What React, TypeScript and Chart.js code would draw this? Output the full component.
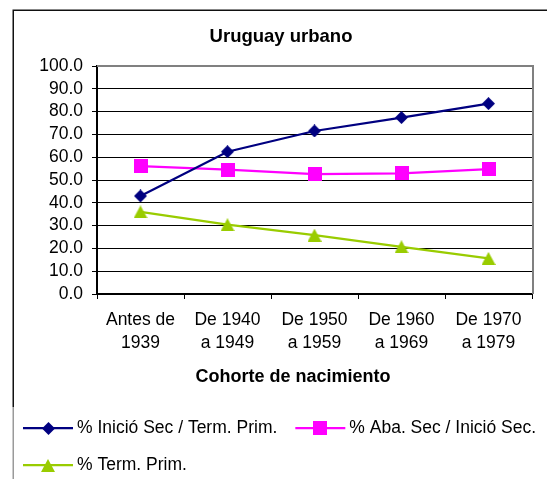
import React, { useEffect, useRef } from 'react';
import { Chart, registerables } from 'chart.js';

Chart.register(...registerables);

const FONT = '"Liberation Sans", Arial, Helvetica, sans-serif';

const chartTitle = 'Uruguay urbano';
const xAxisTitle = 'Cohorte de nacimiento';
const categories: string[][] = [
  ['Antes de', '1939'],
  ['De 1940', 'a 1949'],
  ['De 1950', 'a 1959'],
  ['De 1960', 'a 1969'],
  ['De 1970', 'a 1979'],
];
const seriesNames = ['% Inició Sec / Term. Prim.', '% Aba. Sec / Inició Sec.', '% Term. Prim.'];
const inicioSecTermPrim = [43.0, 62.4, 71.5, 77.4, 83.5];
const abaSecInicioSec = [56.1, 54.6, 52.6, 52.9, 54.8];
const termPrim = [36.0, 30.4, 25.8, 20.7, 15.6];
const yMin = 0;
const yMax = 100;
const yStep = 10;

const BLUE = '#000080';
const PINK = '#FF00FF';
const GREEN = '#99CC00';

function makeMarker(shape: string, color: string): HTMLCanvasElement {
  const c = document.createElement('canvas');
  const ctx = c.getContext('2d')!;
  if (shape === 'diamond') {
    c.width = 13; c.height = 13;
    ctx.fillStyle = color;
    ctx.beginPath();
    ctx.moveTo(6.5, 0); ctx.lineTo(13, 6.5); ctx.lineTo(6.5, 13); ctx.lineTo(0, 6.5);
    ctx.closePath(); ctx.fill();
  } else if (shape === 'square') {
    c.width = 14; c.height = 14;
    ctx.fillStyle = color;
    ctx.fillRect(0, 0, 14, 14);
  } else {
    c.width = 14; c.height = 13;
    ctx.fillStyle = color;
    ctx.beginPath();
    ctx.moveTo(7, 0); ctx.lineTo(14, 13); ctx.lineTo(0, 13);
    ctx.closePath(); ctx.fill();
  }
  return c;
}

const decorPlugin = {
  id: 'decor',
  afterDraw(chart: any) {
    const ctx: CanvasRenderingContext2D = chart.ctx;
    const area = chart.chartArea;
    ctx.save();
    // outer chart frame
    ctx.lineWidth = 1.5;
    ctx.strokeStyle = '#111';
    ctx.beginPath();
    ctx.moveTo(chart.width, 10.25);
    ctx.lineTo(13.25, 10.25);
    ctx.lineTo(13.25, 407);
    ctx.stroke();
    ctx.strokeStyle = '#9a9a9a';
    ctx.beginPath();
    ctx.moveTo(13.25, 407);
    ctx.lineTo(13.25, chart.height);
    ctx.stroke();

    // plot area top/right border (grey)
    ctx.lineWidth = 2;
    ctx.strokeStyle = '#808080';
    ctx.beginPath();
    ctx.moveTo(area.left, area.top);
    ctx.lineTo(area.right + 1, area.top);
    ctx.lineTo(area.right + 1, area.bottom);
    ctx.stroke();

    // chart title
    ctx.fillStyle = '#000';
    ctx.textAlign = 'center';
    ctx.textBaseline = 'alphabetic';
    ctx.font = `bold 18.5px ${FONT}`;
    ctx.fillText(chartTitle, 281, 42);

    // x axis title
    ctx.font = `bold 18px ${FONT}`;
    ctx.fillText(xAxisTitle, 293, 382);

    // legend
    ctx.font = `17.5px ${FONT}`;
    ctx.textAlign = 'left';
    ctx.textBaseline = 'middle';
    const startX = 23;
    const lineLen = 50;
    const textGap = 4;
    const itemGap = 18;
    const rowH = 37;
    let x = startX;
    let y = 428;
    chart.data.datasets.forEach((ds: any) => {
      const tw = ctx.measureText(ds.label).width;
      const w = lineLen + textGap + tw;
      if (x + w > chart.width - 3 && x > startX) {
        x = startX;
        y += rowH;
      }
      ctx.strokeStyle = ds.borderColor;
      ctx.lineWidth = 2.25;
      ctx.beginPath();
      ctx.moveTo(x, y);
      ctx.lineTo(x + lineLen, y);
      ctx.stroke();
      const img: HTMLCanvasElement = ds.pointStyle;
      ctx.drawImage(img, Math.round(x + lineLen / 2 - img.width / 2), Math.round(y - img.height / 2));
      ctx.fillStyle = '#000';
      ctx.fillText(ds.label, x + lineLen + textGap, y);
      x += w + itemGap;
    });
    ctx.restore();
  },
};

export default function App() {
  const canvasRef = useRef<HTMLCanvasElement | null>(null);

  useEffect(() => {
    const canvas = canvasRef.current;
    if (!canvas) return;
    const datasets = [
      { label: seriesNames[0], data: inicioSecTermPrim, color: BLUE, marker: 'diamond' },
      { label: seriesNames[1], data: abaSecInicioSec, color: PINK, marker: 'square' },
      { label: seriesNames[2], data: termPrim, color: GREEN, marker: 'triangle' },
    ].map((s) => ({
      label: s.label,
      data: s.data,
      borderColor: s.color,
      backgroundColor: s.color,
      borderWidth: 2.25,
      tension: 0,
      pointStyle: makeMarker(s.marker, s.color),
      pointRadius: 7,
      pointHoverRadius: 7,
    }));

    const chart = new Chart(canvas, {
      type: 'line',
      data: { labels: categories as any, datasets: datasets as any },
      options: {
        responsive: false,
        animation: false,
        layout: { padding: { left: 0, top: 66, right: 15, bottom: 125 } },
        plugins: {
          legend: { display: false },
          title: { display: false },
          tooltip: { enabled: false },
        },
        scales: {
          x: {
            type: 'category',
            offset: true,
            grid: { offset: true, drawOnChartArea: false, color: '#000', tickLength: 5, lineWidth: 1 },
            border: { color: '#000', width: 2 },
            ticks: {
              color: '#000',
              font: { family: FONT, size: 17.5, lineHeight: 1.3 },
              padding: 10,
              maxRotation: 0,
              minRotation: 0,
              autoSkip: false,
            },
            afterFit: (s: any) => { s.height = 60; },
          },
          y: {
            min: yMin,
            max: yMax,
            grid: { color: '#000', tickLength: 5, lineWidth: 1 },
            border: { color: '#000', width: 2 },
            ticks: {
              stepSize: yStep,
              autoSkip: false,
              color: '#000',
              font: { family: FONT, size: 17.5 },
              padding: 9,
              callback: (v: any) => Number(v).toFixed(1),
            },
            afterFit: (s: any) => { s.width = 97; },
          },
        },
      },
      plugins: [decorPlugin],
    });
    return () => chart.destroy();
  }, []);

  return (
    <div style={{ position: 'fixed', left: 0, top: 0, width: 547, height: 479, background: '#fff' }}>
      <canvas ref={canvasRef} width={547} height={479} style={{ display: 'block', width: 547, height: 479 }} />
    </div>
  );
}
